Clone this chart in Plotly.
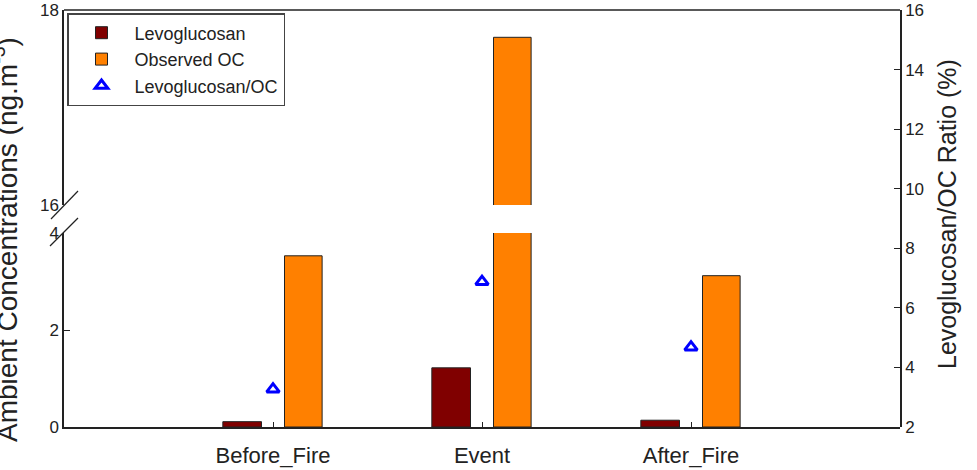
import plotly.graph_objects as go

categories = ["Before_Fire", "Event", "After_Fire"]
levoglucosan = [0.11, 1.22, 0.14]
observed_oc = [3.53, 17.72, 3.12]
ratio_pct = [3.27, 6.88, 4.68]

FONT = "Liberation Sans, Arial, sans-serif"
W, H = 977, 470
L, R, T, B = 64, 900, 10, 427
pw, ph = R - L, B - T

def px2x(px):
    return (px - L) / pw

def px2y(py):
    return (B - py) / ph

low_top = px2y(233)
up_bot = px2y(205)

fig = go.Figure()

bar_line = dict(color="#222222", width=1)

fig.add_trace(go.Bar(x=categories, y=levoglucosan, name="Levoglucosan",
                     marker=dict(color="#800000", line=bar_line),
                     offset=-0.24, width=0.185, xaxis="x", yaxis="y"))
fig.add_trace(go.Bar(x=categories, y=observed_oc, name="Observed OC",
                     marker=dict(color="#FF8000", line=bar_line),
                     offset=0.055, width=0.18, xaxis="x", yaxis="y"))
fig.add_trace(go.Bar(x=categories, y=observed_oc, name="Observed OC",
                     marker=dict(color="#FF8000", line=bar_line),
                     offset=0.055, width=0.18, xaxis="x", yaxis="y2",
                     showlegend=False))
fig.add_trace(go.Scatter(x=categories, y=ratio_pct, name="Levoglucosan/OC",
                         mode="markers",
                         marker=dict(symbol="triangle-up-open", size=11,
                                     color="#0000FF", line=dict(width=3, color="#0000FF")),
                         xaxis="x", yaxis="y3", cliponaxis=False))

axis_common = dict(showline=True, linecolor="#222222", linewidth=1.5,
                   ticks="inside", ticklen=6, tickcolor="#222222",
                   showgrid=False, zeroline=False, automargin=False,
                   tickfont=dict(family=FONT, size=17, color="#222222"))

shapes = [
    # top frame line
    dict(type="line", xref="paper", yref="paper", x0=0, x1=1, y0=1, y1=1,
         line=dict(color="#222222", width=1.5)),
    # axis break slashes
    dict(type="line", xref="paper", yref="paper",
         x0=px2x(51), x1=px2x(78), y0=px2y(219), y1=px2y(191),
         line=dict(color="#222222", width=1.2)),
    dict(type="line", xref="paper", yref="paper",
         x0=px2x(50), x1=px2x(78), y0=px2y(246), y1=px2y(218),
         line=dict(color="#222222", width=1.2)),
]

fig.update_layout(
    width=W, height=H,
    margin=dict(l=L, r=W - R, t=T, b=H - B),
    paper_bgcolor="white", plot_bgcolor="rgba(0,0,0,0)",
    font=dict(family=FONT, color="#222222"),
    barmode="overlay",
    showlegend=True,
    xaxis=dict(type="category", range=[-1, 3], anchor="y",
               showline=True, linecolor="#222222", linewidth=1.5,
               ticks="inside", ticklen=5, tickcolor="#222222",
               showgrid=False, zeroline=False, ticklabelstandoff=8,
               automargin=False,
               tickfont=dict(family=FONT, size=22, color="#222222")),
    yaxis=dict(domain=[0, low_top], range=[0, 4], tickvals=[0, 2, 4],
               anchor="x", **axis_common),
    yaxis2=dict(domain=[up_bot, 1], range=[16, 18], tickvals=[16, 18],
                anchor="x", **axis_common),
    yaxis3=dict(domain=[0, 1], range=[2, 16], dtick=2, side="right",
                anchor="x", **axis_common),
    legend=dict(x=px2x(67), y=px2y(13), xanchor="left", yanchor="top",
                bordercolor="#444444", borderwidth=1.5, bgcolor="white",
                font=dict(family=FONT, size=18, color="#222222"),
                tracegroupgap=0, itemwidth=56),
    shapes=shapes,
    annotations=[
        dict(text="Ambient Concentrations (ng.m<sup>-3</sup>)", textangle=-90,
             xref="paper", yref="paper", x=px2x(5), y=px2y(240),
             xanchor="center", yanchor="middle", showarrow=False,
             font=dict(family=FONT, size=28, color="#222222")),
        dict(text="Levoglucosan/OC Ratio (%)", textangle=-90,
             xref="paper", yref="paper", x=px2x(947), y=px2y(214),
             xanchor="center", yanchor="middle", showarrow=False,
             font=dict(family=FONT, size=25, color="#222222")),
    ],
)

fig.write_html("out.html")
